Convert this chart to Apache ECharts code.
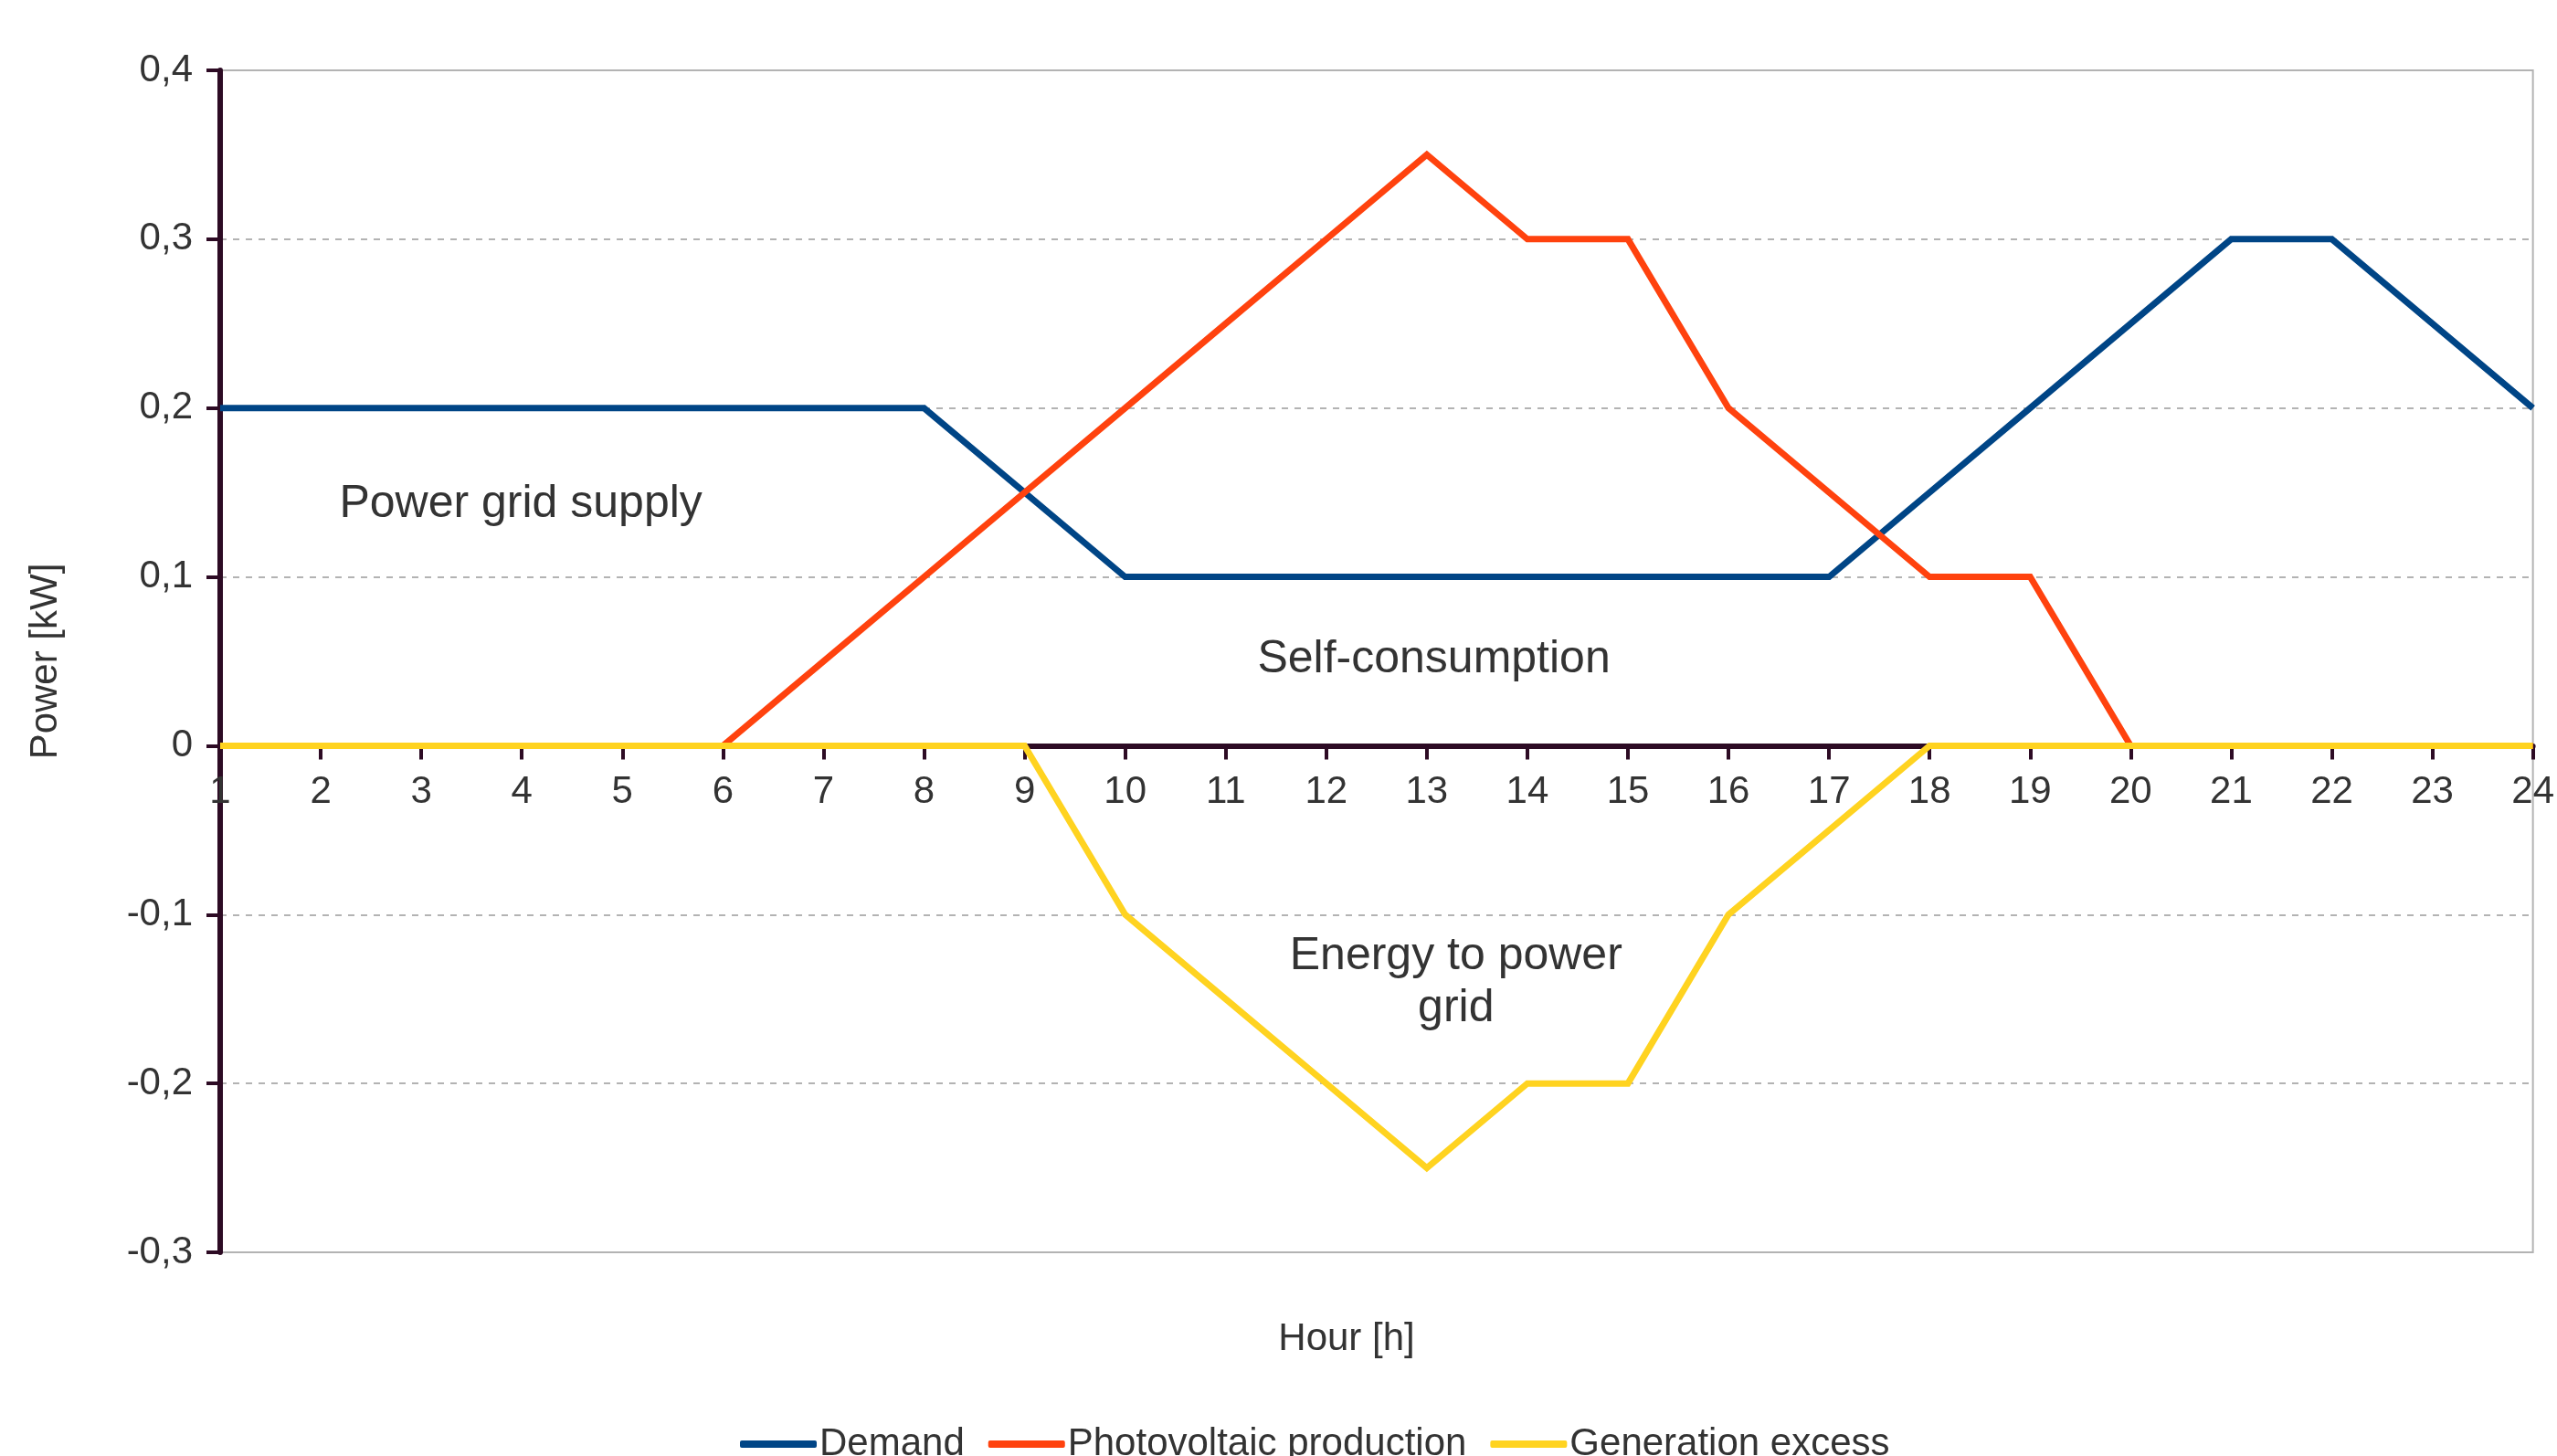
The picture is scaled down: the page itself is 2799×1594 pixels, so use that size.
<!DOCTYPE html>
<html>
<head>
<meta charset="utf-8">
<script src="https://cdn.jsdelivr.net/npm/echarts@6/dist/echarts.min.js"></script>
<style>
  html, body { margin: 0; padding: 0; background: #fff; }
  #chart { width: 2799px; height: 1594px; }
</style>
</head>
<body>
<div id="chart"></div>
<script>
var hours = [1, 2, 3, 4, 5, 6, 7, 8, 9, 10, 11, 12, 13, 14, 15, 16, 17, 18, 19, 20, 21, 22, 23, 24];
var demand = [0.2, 0.2, 0.2, 0.2, 0.2, 0.2, 0.2, 0.2, 0.15, 0.1, 0.1, 0.1, 0.1, 0.1, 0.1, 0.1, 0.1, 0.15, 0.2, 0.25, 0.3, 0.3, 0.25, 0.2];
var pvProduction = [0, 0, 0, 0, 0, 0, 0.05, 0.1, 0.15, 0.2, 0.25, 0.3, 0.35, 0.3, 0.3, 0.2, 0.15, 0.1, 0.1, 0, 0, 0, 0, 0];
var genExcess = [0, 0, 0, 0, 0, 0, 0, 0, 0, -0.1, -0.15, -0.2, -0.25, -0.2, -0.2, -0.1, -0.05, 0, 0, 0, 0, 0, 0, 0];

var seriesNames = ["Demand", "Photovoltaic production", "Generation excess"];
var seriesColors = ["#004586", "#ff420e", "#ffd320"];

// region labels inside the plot, in data coordinates
var noteText = ["Power grid supply", "Self-consumption", "Energy to power\ngrid"];
var noteX = [3.99, 13.07, 13.29];
var noteY = [0.143, 0.051, -0.14];

var font = "Liberation Sans";
var textColor = "#333333";
var axisColor = "#2d0b24";

function pairs(ys) {
  var out = [];
  for (var i = 0; i < hours.length; i++) out.push([hours[i], ys[i]]);
  return out;
}

var notes = [];
for (var i = 0; i < noteText.length; i++) {
  notes.push({
    coord: [noteX[i], noteY[i]],
    value: noteText[i],
    label: { formatter: noteText[i] }
  });
}

var chart = echarts.init(document.getElementById("chart"));

var lines = [demand, pvProduction, genExcess].map(function (ys, k) {
  var s = {
    name: seriesNames[k],
    type: "line",
    data: pairs(ys),
    showSymbol: false,
    symbol: "none",
    lineStyle: { width: 7, color: seriesColors[k], join: "miter" },
    itemStyle: { color: seriesColors[k] },
    z: 6 + k,
  };
  if (k == 0) {
    s.markPoint = {
      symbol: "circle",
      symbolSize: 0,
      itemStyle: { color: "transparent" },
      label: {
        show: true,
        position: "inside",
        color: textColor,
        fontFamily: font,
        fontSize: 50,
        lineHeight: 57,
        align: "center",
        verticalAlign: "middle",
      },
      data: notes,
    };
  }
  return s;
});

chart.setOption({
  animation: false,
  textStyle: { fontFamily: font },
  grid: {
    left: 241,
    right: 20,
    top: 77,
    bottom: 223,
    show: true,
    borderColor: "#b3b3b3",
    borderWidth: 2,
    backgroundColor: "transparent",
  },
  legend: {
    data: seriesNames,
    left: 805,
    top: 1555,
    icon: "roundRect",
    itemWidth: 84,
    itemHeight: 8,
    itemGap: 26,
    textStyle: { fontSize: 42, color: textColor, fontFamily: font, padding: [0, 0, 0, -2] },
  },
  xAxis: {
    type: "value",
    min: 1,
    max: 24,
    interval: 1,
    axisLine: { onZero: false, lineStyle: { color: axisColor, width: 6 } },
    axisTick: { show: true, length: 15, lineStyle: { color: axisColor, width: 4 } },
    axisLabel: { margin: 30, fontSize: 42, color: textColor, fontFamily: font },
    splitLine: { show: false },
    z: 5,
  },
  yAxis: {
    type: "value",
    min: -0.3,
    max: 0.4,
    interval: 0.1,
    axisLine: { show: true, lineStyle: { color: axisColor, width: 6 } },
    axisTick: { show: true, length: 15, lineStyle: { color: axisColor, width: 4 } },
    axisLabel: {
      margin: 30,
      fontSize: 42,
      color: textColor,
      fontFamily: font,
      formatter: function (v) {
        if (Math.abs(v) < 1e-9) return "0";
        return v.toFixed(1).replace(".", ",");
      },
    },
    splitLine: {
      show: true,
      showMinLine: false,
      showMaxLine: false,
      lineStyle: { color: "#b3b3b3", width: 2, type: [7, 7] },
    },
    z: 3,
  },
  graphic: [
    {
      type: "text",
      x: 50,
      y: 724,
      rotation: Math.PI / 2,
      style: {
        text: "Power [kW]",
        fill: textColor,
        font: "42px " + font,
        textAlign: "center",
        textVerticalAlign: "middle",
      },
    },
    {
      type: "text",
      x: 1474,
      y: 1466,
      style: {
        text: "Hour [h]",
        fill: textColor,
        font: "42px " + font,
        textAlign: "center",
        textVerticalAlign: "middle",
      },
    },
  ],
  series: lines,
});

// move the hour axis (line, ticks and labels) up to the zero line
var zeroY = chart.convertToPixel({ yAxisIndex: 0 }, 0);
var bottomY = chart.convertToPixel({ yAxisIndex: 0 }, -0.3);
chart.setOption({ xAxis: { offset: -(bottomY - zeroY) } });
</script>
</body>
</html>
